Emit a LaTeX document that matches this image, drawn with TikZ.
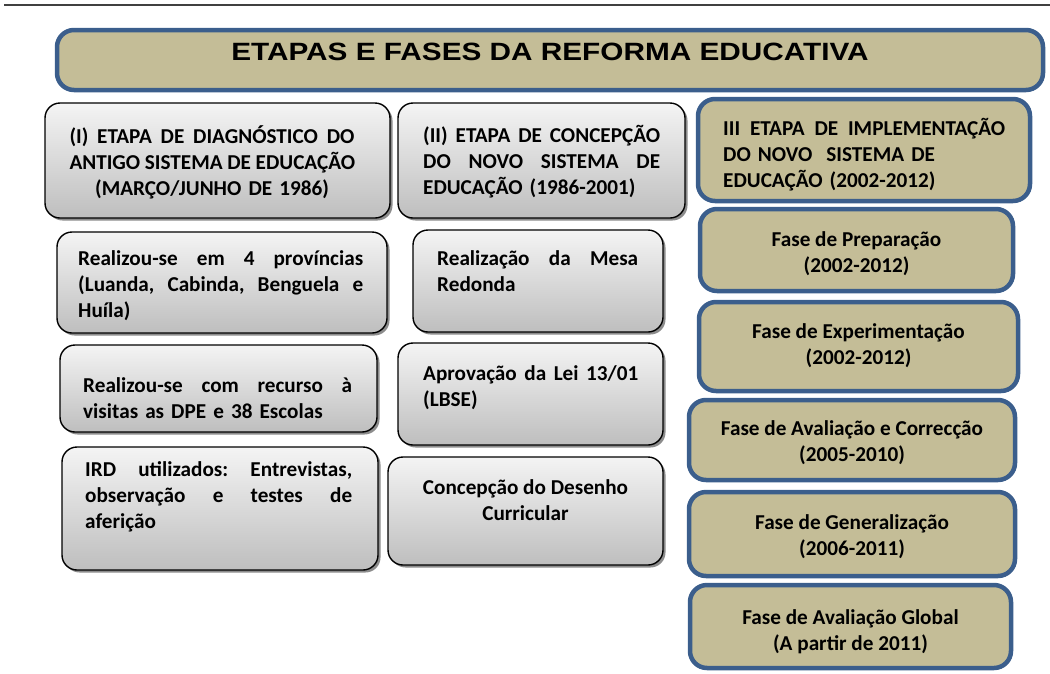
\documentclass[tikz,border=0pt]{standalone}
\usepackage{fontspec}
\setmainfont{Carlito}
\newfontfamily\titlefont{Liberation Sans}
\usetikzlibrary{calc,shadows}
\definecolor{ink}{HTML}{000000}
\definecolor{frame}{HTML}{3B5E8C}
\definecolor{tan}{HTML}{C4BD97}
\definecolor{paleGray}{HTML}{F4F4F4}
\definecolor{midGray}{HTML}{BEBEBE}
\definecolor{rule}{HTML}{404040}
\newcommand{\jline}[1]{\makebox[\linewidth][s]{\frenchspacing\spaceskip=.22em plus 1fil\xspaceskip=\spaceskip #1}}
\tikzset{
  basebox/.style={rounded corners=15pt,inner sep=0pt},
  graybox/.style={basebox,draw=black,line width=1.4pt,top color=paleGray,bottom color=midGray,
    drop shadow={shadow xshift=2.5pt,shadow yshift=-2.5pt,fill=black!45,opacity=1}},
  tanbox/.style={basebox,rounded corners=17pt,draw=frame,fill=tan,line width=4.5pt},
  boxtext/.style={inner sep=0pt,font=\bfseries\fontsize{21.2}{26}\selectfont,text=ink},
  lefttext/.style={boxtext,anchor=north west,align=left},
  midtext/.style={boxtext,anchor=north,align=center}
}
\begin{document}
\begin{tikzpicture}[x=1pt,y=-1pt]
  \useasboundingbox (0,0) rectangle (1050,673);
  \draw[rule,line width=1.6pt] (4,5) -- (1050,5);

  % title
  \node[tanbox,minimum width=986,minimum height=60] (title) at (550,60) {};
  \node[anchor=base,inner sep=0pt,xscale=1.19,font=\titlefont\bfseries\fontsize{25}{30}\selectfont] (titletxt) at (550,60) {ETAPAS E FASES DA REFORMA EDUCATIVA};

  % etapa I
  \node[graybox,minimum width=345,minimum height=115] (diag) at (217.5,160.5) {};
  \node[midtext,text width=285] (diagtxt) at (212,125) {\jline{(I) ETAPA DE DIAGNÓSTICO DO}\\ \jline{ANTIGO SISTEMA DE EDUCAÇÃO}\\ (MARÇO/JUNHO DE 1986)};
  \node[graybox,minimum width=330,minimum height=101] (prov) at (222,282.5) {};
  \node[lefttext,text width=285] (provtxt) at (78,250) {\jline{Realizou-se em 4 províncias}\\ \jline{(Luanda, Cabinda, Benguela e}\\ Huíla)};
  \node[graybox,minimum width=317,minimum height=87] (visit) at (218.5,388.5) {};
  \node[lefttext,text width=269] (visittxt) at (83,377) {\jline{Realizou-se com recurso à}\\ visitas as DPE e 38 Escolas};
  \node[graybox,minimum width=316,minimum height=123] (ird) at (220,508.5) {};
  \node[lefttext,text width=267] (irdtxt) at (85,461) {\jline{IRD utilizados: Entrevistas,}\\ \jline{observação e testes de}\\ aferição};

  % etapa II
  \node[graybox,minimum width=287,minimum height=115] (conc) at (541.5,160.5) {};
  \node[lefttext,text width=237] (conctxt) at (423,125) {\jline{(II) ETAPA DE CONCEPÇÃO}\\ \jline{DO NOVO SISTEMA DE}\\ EDUCAÇÃO (1986-2001)};
  \node[graybox,minimum width=250,minimum height=102] (mesa) at (538,281) {};
  \node[lefttext,text width=201] (mesatxt) at (437,250) {\jline{Realização da Mesa}\\ Redonda};
  \node[graybox,minimum width=265,minimum height=102] (lei) at (530.5,394) {};
  \node[lefttext,text width=215] (leitxt) at (423,365) {\jline{Aprovação da Lei 13/01}\\ (LBSE)};
  \node[graybox,minimum width=275,minimum height=108] (desenho) at (525.5,511) {};
  \node[midtext] (desenhotxt) at (525.5,479) {Concepção do Desenho\\ Curricular};

  % etapa III
  \node[tanbox,minimum width=332,minimum height=102] (impl) at (864,150) {};
  \node[lefttext,text width=282] (impltxt) at (723,118) {\jline{III ETAPA DE IMPLEMENTAÇÃO}\\ DO NOVO\ \ SISTEMA DE\\ EDUCAÇÃO (2002-2012)};
  \node[tanbox,minimum width=313,minimum height=82] (prep) at (856.5,250) {};
  \node[midtext] (preptxt) at (856.5,231) {Fase de Preparação\\ (2002-2012)};
  \node[tanbox,minimum width=319,minimum height=89] (exper) at (858.5,346.5) {};
  \node[midtext] (expertxt) at (858.5,323) {Fase de Experimentação\\ (2002-2012)};
  \node[tanbox,minimum width=326,minimum height=80] (correc) at (852,440) {};
  \node[midtext] (correctxt) at (852,420) {Fase de Avaliação e Correcção\\ (2005-2010)};
  \node[tanbox,minimum width=326,minimum height=84] (gener) at (852,534) {};
  \node[midtext] (genertxt) at (852,514) {Fase de Generalização\\ (2006-2011)};
  \node[tanbox,minimum width=321,minimum height=83] (global) at (850.5,626.5) {};
  \node[midtext] (globaltxt) at (850.5,609) {Fase de Avaliação Global\\ (A partir de 2011)};
\end{tikzpicture}
\end{document}
